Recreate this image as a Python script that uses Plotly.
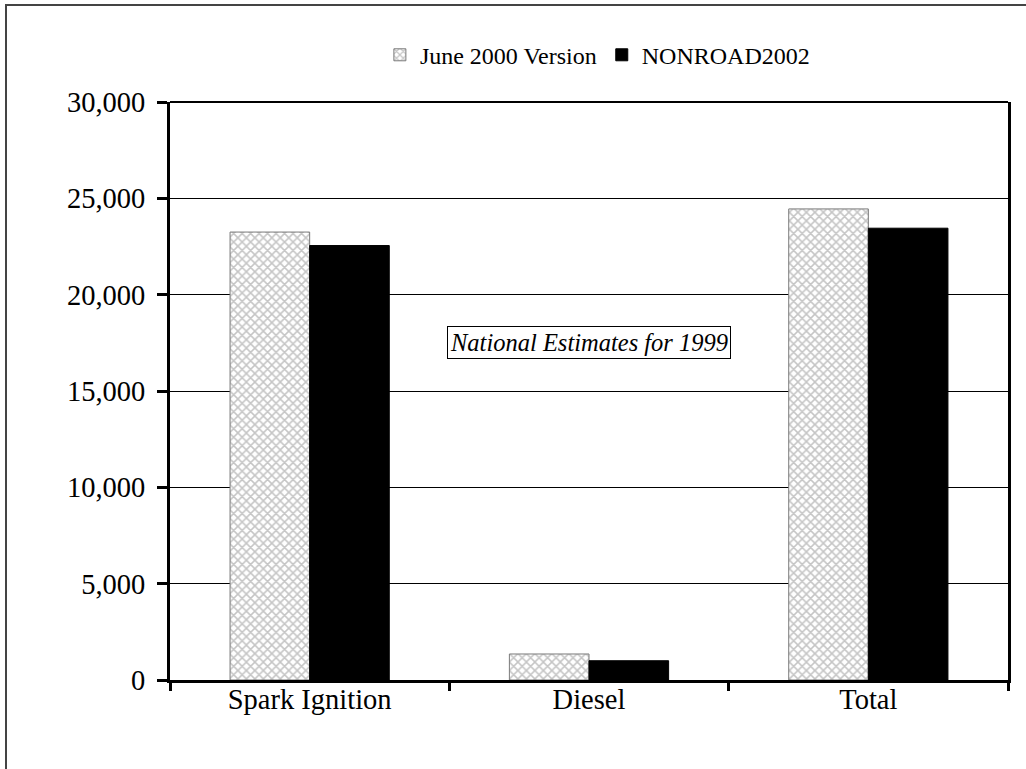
import plotly.graph_objects as go

categories = ["Spark Ignition", "Diesel", "Total"]
june_2000 = [23250, 1350, 24450]
nonroad_2002 = [22550, 1000, 23450]
series_names = ["June 2000 Version", "NONROAD2002"]
note_text = "National Estimates for 1999"

FONT = "Liberation Serif, Times New Roman, serif"

fig = go.Figure()
fig.add_trace(go.Bar(
    x=categories, y=june_2000, name=series_names[0],
    marker=dict(
        color="white",
        line=dict(color="#7a7a7a", width=1),
        pattern=dict(shape="x", fgcolor="#8c8c8c", bgcolor="white", size=6, solidity=0.45),
    ),
))
fig.add_trace(go.Bar(
    x=categories, y=nonroad_2002, name=series_names[1],
    marker=dict(color="black", line=dict(color="black", width=1)),
))

fig.update_layout(
    width=1026, height=769,
    barmode="group", bargap=0.43, bargroupgap=0,
    paper_bgcolor="white", plot_bgcolor="white",
    font=dict(family=FONT, color="black", size=28),
    margin=dict(l=170, r=18, t=102, b=89),
    legend=dict(
        orientation="h", x=0.51, y=1.081, xanchor="center", yanchor="middle",
        font=dict(size=24, family=FONT), itemwidth=30, traceorder="normal",
        bgcolor="rgba(0,0,0,0)",
    ),
    xaxis=dict(
        showline=True, linecolor="black", linewidth=3,
        ticks="outside", ticklen=8, tickwidth=3, tickcolor="black",
        tickson="boundaries", tickfont=dict(size=28.5),
        showgrid=False, ticklabelstandoff=-8,
    ),
    yaxis=dict(
        range=[0, 30000], dtick=5000, tickformat=",",
        showline=True, linecolor="black", linewidth=3, mirror=True,
        ticks="outside", ticklen=10, tickwidth=3, tickcolor="black",
        showgrid=True, gridcolor="black", gridwidth=1,
        zeroline=False, tickfont=dict(size=28.5), ticklabelstandoff=6,
    ),
    annotations=[dict(
        x=1, y=17500, xref="x", yref="y", text=f"<i>{note_text}</i>",
        showarrow=False, font=dict(size=24.5, family=FONT),
        bordercolor="black", borderwidth=1, borderpad=2, bgcolor="white",
    )],
    shapes=[
        dict(type="line", xref="paper", yref="paper", x0=0, x1=1, y0=1, y1=1,
             line=dict(color="black", width=2)),
        dict(type="rect", xref="paper", yref="paper",
             x0=(6 - 170) / 838, x1=(1040 - 170) / 838,
             y0=(680 - 790) / 578, y1=(680 - 5) / 578,
             line=dict(color="#444", width=2), layer="below"),
    ],
)

fig.write_html("out.html", config={"displayModeBar": False},
               post_script="document.body.style.margin='0';")
